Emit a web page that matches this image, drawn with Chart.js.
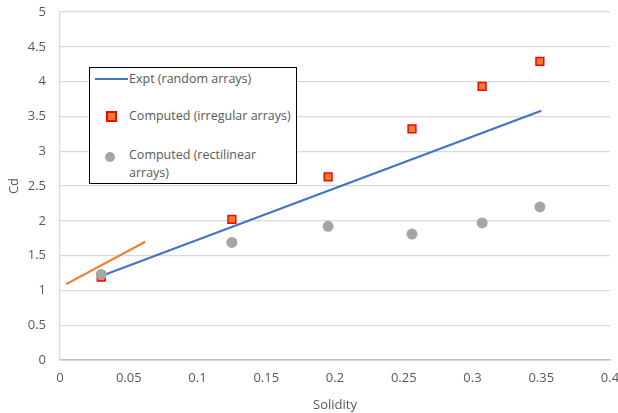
<!DOCTYPE html>
<html lang="en">
<head>
    <meta charset="UTF-8">
    <title>Cd vs Solidity</title>
    <script src="https://cdn.jsdelivr.net/npm/chart.js"></script>
    <style>
        body {
            margin: 0;
            padding: 0;
            background-color: #ffffff;
            font-family: "Open Sans", "Liberation Sans", Arial, sans-serif;
        }

        .wrap {
            position: relative;
            width: 618px;
            height: 413px;
        }

        .legend {
            position: absolute;
            left: 89px;
            top: 67px;
            width: 206px;
            height: 115px;
            border: 1.5px solid #000000;
            background-color: #ffffff;
            font-size: 12.5px;
            color: #595959;
        }

        .legend .item {
            position: absolute;
            left: 39px;
            line-height: 18px;
            white-space: nowrap;
        }

        .sym-line {
            position: absolute;
            left: 5px;
            top: 10px;
            width: 33px;
            height: 2px;
            background-color: #4472c4;
        }

        .sym-square {
            position: absolute;
            left: 16px;
            top: 43px;
            width: 7px;
            height: 7px;
            background-color: #ed7d31;
            border: 2px solid #ff0000;
        }

        .sym-circle {
            position: absolute;
            left: 15px;
            top: 84px;
            width: 10px;
            height: 10px;
            border-radius: 50%;
            background-color: #a5a5a5;
        }
    </style>
</head>
<body>

    <div class="wrap">
        <canvas id="chart" width="618" height="413"></canvas>

        <!-- legenda desenhada por cima do gráfico, como no original -->
        <div class="legend">
            <div class="sym-line"></div>
            <div class="item" style="top: 2px;">Expt (random arrays)</div>
            <div class="sym-square"></div>
            <div class="item" style="top: 39px;">Computed (irregular arrays)</div>
            <div class="sym-circle"></div>
            <div class="item" style="top: 78px;">Computed (rectilinear<br>arrays)</div>
        </div>
    </div>

    <script>
        // Dados
        const solidity = [0.03, 0.125, 0.195, 0.256, 0.307, 0.349];
        const cdIrregular = [1.19, 2.02, 2.63, 3.32, 3.93, 4.29];
        const cdRectilinear = [1.23, 1.69, 1.92, 1.81, 1.97, 2.2];

        const exptX = [0.0305, 0.35];
        const exptY = [1.21, 3.58];

        const extraX = [0.0045, 0.062];
        const extraY = [1.09, 1.7];

        const xTicks = [0, 0.05, 0.1, 0.15, 0.2, 0.25, 0.3, 0.35, 0.4];
        const yTicks = [0, 0.5, 1, 1.5, 2, 2.5, 3, 3.5, 4, 4.5, 5];

        function toPoints(xs, ys) {
            return xs.map((x, i) => ({ x: x, y: ys[i] }));
        }

        const tickFont = { family: '"Open Sans", "Liberation Sans", Arial, sans-serif', size: 13 };

        const config = {
            type: 'scatter',
            data: {
                datasets: [
                    {
                        label: 'Computed (irregular arrays)',
                        data: toPoints(solidity, cdIrregular),
                        order: 1,
                        pointStyle: 'rect',
                        pointRadius: 5.5,
                        pointBackgroundColor: '#ed7d31',
                        pointBorderColor: '#ff0000',
                        pointBorderWidth: 1.5
                    },
                    {
                        label: 'Computed (rectilinear arrays)',
                        data: toPoints(solidity, cdRectilinear),
                        order: 0,
                        pointStyle: 'circle',
                        pointRadius: 5.5,
                        pointBackgroundColor: '#a5a5a5',
                        pointBorderColor: '#a5a5a5',
                        pointBorderWidth: 0
                    },
                    {
                        label: 'Expt (random arrays)',
                        data: toPoints(exptX, exptY),
                        order: 2,
                        showLine: true,
                        borderColor: '#4472c4',
                        borderWidth: 2.2,
                        pointRadius: 0
                    },
                    {
                        label: 'extra',
                        data: toPoints(extraX, extraY),
                        order: 3,
                        showLine: true,
                        borderColor: '#ed7d31',
                        borderWidth: 2.2,
                        pointRadius: 0
                    }
                ]
            },
            options: {
                responsive: false,
                animation: false,
                layout: {
                    padding: { top: 12, right: 8, left: 6, bottom: 0 }
                },
                plugins: {
                    legend: { display: false },
                    tooltip: { enabled: false }
                },
                scales: {
                    x: {
                        type: 'linear',
                        min: 0,
                        max: 0.4,
                        afterBuildTicks: function(scale) {
                            scale.ticks = xTicks.map(v => ({ value: v }));
                        },
                        afterFit: function(scale) {
                            scale.height = 53;
                            scale.paddingRight = 0;
                            scale.paddingLeft = 0;
                        },
                        grid: { display: false, drawTicks: false },
                        border: { display: true, color: '#bfbfbf', width: 1.5 },
                        ticks: {
                            color: '#595959',
                            font: tickFont,
                            padding: 10,
                            maxRotation: 0,
                            callback: v => String(v)
                        },
                        title: {
                            display: true,
                            text: 'Solidity',
                            color: '#595959',
                            font: tickFont,
                            padding: { top: 2, bottom: 0 }
                        }
                    },
                    y: {
                        type: 'linear',
                        min: 0,
                        max: 5,
                        afterBuildTicks: function(scale) {
                            scale.ticks = yTicks.map(v => ({ value: v }));
                        },
                        afterFit: function(scale) {
                            scale.width = 54;
                            scale.paddingTop = 0;
                            scale.paddingBottom = 0;
                        },
                        grid: { color: '#d9d9d9', lineWidth: 1.3, drawTicks: false },
                        border: { display: true, color: '#d9d9d9', width: 1.3 },
                        ticks: {
                            color: '#595959',
                            font: tickFont,
                            padding: 14,
                            callback: v => String(v)
                        },
                        title: {
                            display: true,
                            text: 'Cd',
                            color: '#595959',
                            font: tickFont,
                            padding: { top: 0, bottom: 0 }
                        }
                    }
                }
            }
        };

        window.onload = function() {
            new Chart(document.getElementById('chart'), config);
        };
    </script>
</body>
</html>
